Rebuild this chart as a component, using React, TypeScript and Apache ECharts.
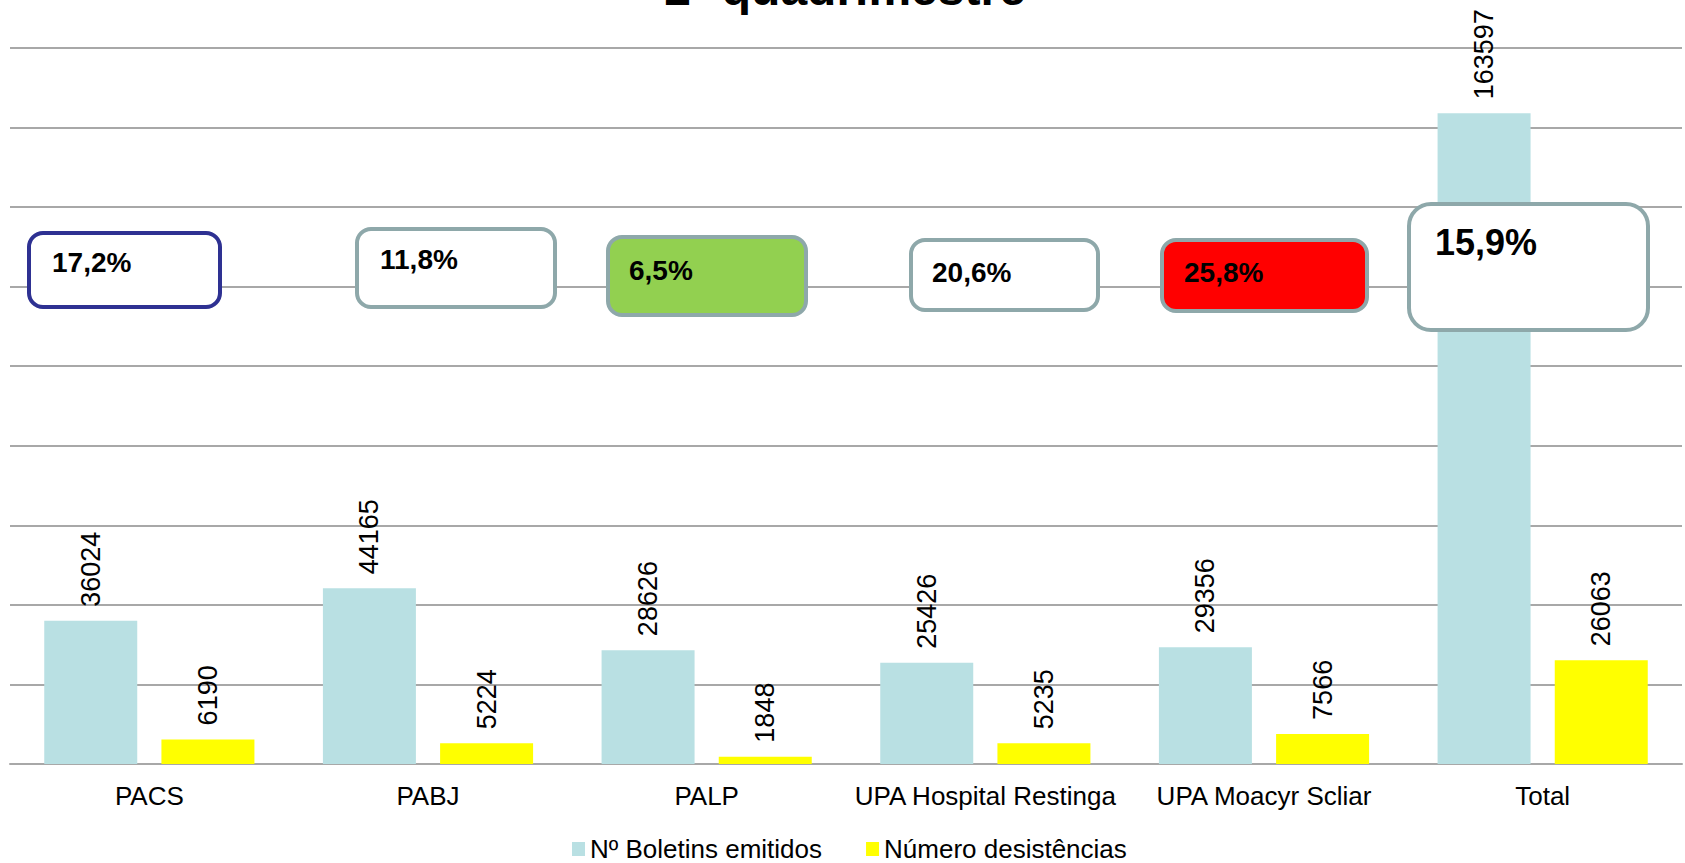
import React, { useEffect, useRef } from "react";
import * as echarts from "echarts";

const categories = ["PACS", "PABJ", "PALP", "UPA Hospital Restinga", "UPA Moacyr Scliar", "Total"];
const boletins = [36024, 44165, 28626, 25426, 29356, 163597];
const desistencias = [6190, 5224, 1848, 5235, 7566, 26063];
const percentLabels = ["17,2%", "11,8%", "6,5%", "20,6%", "25,8%", "15,9%"];
const seriesNames = ["Nº Boletins emitidos", "Número desistências"];
const titleText = "2º quadrimestre";

// annotation box layout (positions / styles only)
const boxLayout = [
  { x: 29, y: 233, w: 191, h: 74, r: 14, fill: "#ffffff", stroke: "#2e3192", tx: 52, ty: 262, fs: 28 },
  { x: 357, y: 229, w: 198, h: 78, r: 14, fill: "#ffffff", stroke: "#8ea8aa", tx: 380, ty: 259, fs: 28 },
  { x: 608, y: 237, w: 198, h: 78, r: 14, fill: "#92d050", stroke: "#8ea8aa", tx: 629, ty: 270, fs: 28 },
  { x: 911, y: 240, w: 187, h: 70, r: 14, fill: "#ffffff", stroke: "#8ea8aa", tx: 932, ty: 272, fs: 28 },
  { x: 1162, y: 240, w: 205, h: 71, r: 14, fill: "#ff0000", stroke: "#8ea8aa", tx: 1184, ty: 272, fs: 28 },
  { x: 1409, y: 204, w: 239, h: 126, r: 22, fill: "#ffffff", stroke: "#8ea8aa", tx: 1435, ty: 242, fs: 36 },
];

const FONT = "'Liberation Sans', Arial, sans-serif";

export default function App() {
  const ref = useRef<HTMLDivElement>(null);
  useEffect(() => {
    document.body.style.margin = "0";
    document.body.style.overflow = "hidden";
    if (!ref.current) return;
    const chart = echarts.init(ref.current, undefined, { renderer: "svg" });
    const graphics: any[] = [];
    boxLayout.forEach((b, i) => {
      graphics.push({
        type: "rect",
        z: 10,
        shape: { x: b.x, y: b.y, width: b.w, height: b.h, r: b.r },
        style: { fill: b.fill, stroke: b.stroke, lineWidth: 4 },
      });
      graphics.push({
        type: "text",
        z: 11,
        x: b.tx,
        y: b.ty,
        style: {
          text: percentLabels[i],
          fill: "#000000",
          font: `bold ${b.fs}px ${FONT}`,
          textAlign: "left",
          textVerticalAlign: "middle",
        },
      });
    });
    graphics.push({
      type: "text",
      z: 11,
      x: 845,
      y: -12,
      style: {
        text: titleText,
        fill: "#000000",
        font: `bold 48px ${FONT}`,
        textAlign: "center",
        textVerticalAlign: "middle",
      },
    });
    const labelCfg = {
      show: true,
      position: "top",
      rotate: 90,
      align: "left",
      verticalAlign: "middle",
      distance: 14,
      fontSize: 27,
      fontFamily: FONT,
      color: "#000000",
    };
    chart.setOption({
      animation: false,
      backgroundColor: "#ffffff",
      legend: {
        data: seriesNames,
        left: 567,
        top: 831,
        itemWidth: 13,
        itemHeight: 14,
        itemGap: 44,
        icon: "rect",
        textStyle: { fontSize: 26, fontFamily: FONT, color: "#000000" },
      },
      grid: { left: 10, right: 3, top: 48, bottom: 99, containLabel: false, outerBoundsMode: "none" },
      xAxis: {
        type: "category",
        data: categories,
        axisTick: { show: false },
        axisLine: { show: true, lineStyle: { color: "#a8a8a8", width: 2 } },
        axisLabel: { fontSize: 26, fontFamily: FONT, color: "#000000", margin: 19, interval: 0 },
      },
      yAxis: {
        type: "value",
        min: 0,
        max: 180000,
        interval: 20000,
        axisLabel: { show: false },
        axisLine: { show: false },
        axisTick: { show: false },
        splitLine: { show: true, lineStyle: { color: "#a8a8a8", width: 2 } },
      },
      series: [
        {
          name: seriesNames[0],
          type: "bar",
          data: boletins,
          barWidth: 93,
          barGap: "26%",
          itemStyle: { color: "#b9e0e3" },
          label: labelCfg,
        },
        {
          name: seriesNames[1],
          type: "bar",
          data: desistencias,
          barWidth: 93,
          barGap: "26%",
          itemStyle: { color: "#ffff00" },
          label: labelCfg,
        },
      ],
      graphic: graphics,
    });
    return () => chart.dispose();
  }, []);
  return (
    <div
      ref={ref}
      style={{ position: "fixed", left: 0, top: 0, width: 1685, height: 863, overflow: "hidden" }}
    />
  );
}
